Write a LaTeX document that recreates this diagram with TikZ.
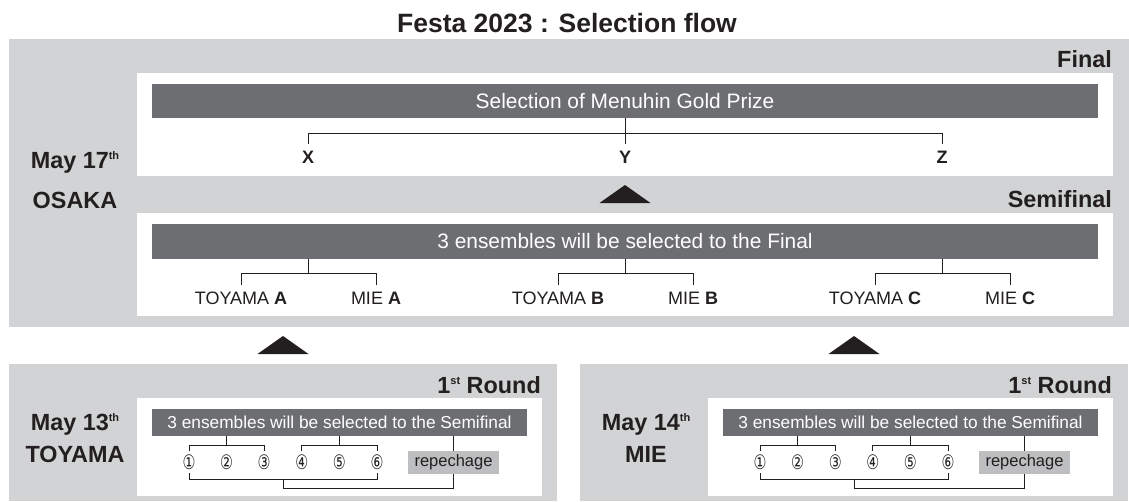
\documentclass[tikz,border=0pt]{standalone}
\usepackage{fontspec}
\setmainfont{Liberation Sans}
\newfontfamily\circfont{DejaVu Sans}

\definecolor{panelgray}{HTML}{D1D3D4}
\definecolor{bargray}{HTML}{6D6E71}
\definecolor{repgray}{HTML}{BCBEC0}
\definecolor{ink}{HTML}{231F20}

\newcommand\supx[1]{\raisebox{8.5pt}{\fontsize{11}{11}\selectfont #1}}

\begin{document}
\begin{tikzpicture}[x=1pt,y=1pt,
    bar/.style={fill=bargray,text=white,inner sep=0pt},
    stage/.style={font=\bfseries\fontsize{23.4}{28}\selectfont,anchor=base east,inner sep=0pt,text=ink},
    place/.style={font=\bfseries\fontsize{23.4}{28}\selectfont,anchor=base,inner sep=0pt,text=ink},
    pick/.style={font=\fontsize{18}{20}\selectfont,inner sep=0pt,outer sep=7pt,text=ink},
    num/.style={font=\circfont\fontsize{20}{20}\selectfont,inner sep=0pt,outer sep=4pt,text=ink},
    link/.style={draw=ink,line width=1pt}]
    \useasboundingbox (0,0) rectangle (1129,-501);
    \node[font=\bfseries\fontsize{26.5}{30}\selectfont,anchor=base,text=ink] (title) at (567,-32) {Festa 2023 : Selection flow};

    % Osaka: final and semifinal
    \fill[panelgray] (9,-39) rectangle (1129,-327);
    \fill[white] (137,-73) rectangle (1113,-176);
    \fill[white] (137,-213) rectangle (1113,-316);
    \node[stage] (final) at (1112,-67) {Final};
    \node[stage] (semi) at (1112,-207) {Semifinal};
    \node[place] (day0) at (75,-168.4) {May 17\supx{th}};
    \node[place] (town0) at (75,-208.4) {OSAKA};

    \node[bar,minimum width=946,minimum height=34,font=\fontsize{20.9}{24}\selectfont] (fbar) at (625,-101) {Selection of Menuhin Gold Prize};
    \node[pick] (X) at (308,-157) {\textbf{X}};
    \node[pick] (Y) at (625,-157) {\textbf{Y}};
    \node[pick] (Z) at (942,-157) {\textbf{Z}};
    \coordinate (fhub) at (625,-133);
    \draw[link] (fbar.south) -- (Y.north);
    \draw[link] (X.north) -- (X.north |- fhub) -- (Z.north |- fhub) -- (Z.north);

    \node[bar,minimum width=946,minimum height=35,font=\fontsize{20.9}{24}\selectfont] (sbar) at (625,-241.5) {3 ensembles will be selected to the Final};
    \foreach \gx/\gl [count=\g] in {308/A,625/B,942/C} {
      \node[pick] (toy\g) at (\gx-67,-298) {TOYAMA \textbf{\gl}};
      \node[pick] (mie\g) at (\gx+68,-298) {MIE \textbf{\gl}};
      \coordinate (shub\g) at (\gx,-273);
      \draw[link] (sbar.south -| shub\g) -- (shub\g);
      \draw[link] (toy\g.north) -- (toy\g.north |- shub\g) -- (mie\g.north |- shub\g) -- (mie\g.north);
    }

    % arrows up
    \foreach \tx/\ty in {625/185,283/336,854/336}
      \fill[ink] (\tx-25.5,-\ty-18) -- (\tx+25.5,-\ty-18) -- (\tx,-\ty) -- cycle;

    % first rounds
    \foreach \dx/\dd/\town [count=\p] in {0/13/TOYAMA,571/14/MIE} {
      \fill[panelgray] (9+\dx,-364) rectangle (557+\dx,-501);
      \fill[white] (137+\dx,-398) rectangle (542+\dx,-496);
      \node[stage] (round\p) at (541+\dx,-393) {1\supx{st} Round};
      \node[place] (day\p) at (75+\dx,-430) {May \dd\supx{th}};
      \node[place] (town\p) at (75+\dx,-462) {\town};
      \node[bar,minimum width=375,minimum height=27,font=\fontsize{17.3}{20}\selectfont] (rbar\p) at (339.5+\dx,-422.5) {3 ensembles will be selected to the Semifinal};
      \foreach \k in {1,...,6}
        \node[num] (c\p\k) at (189+37.6*\k-37.6+\dx,-462) {\scalebox{0.72}[1]{\char\numexpr"245F+\k\relax}};
      \node[fill=repgray,minimum width=91,minimum height=23,inner sep=0pt,font=\fontsize{16.5}{18}\selectfont,text=ink] (rep\p) at (453.5+\dx,-462.5) {repechage};
      \coordinate (hubA\p) at (226.6+\dx,-445);
      \coordinate (hubB\p) at (339.4+\dx,-445);
      \coordinate (low\p) at (283+\dx,-479);
      \coordinate (bot\p) at (283+\dx,-488);
      \draw[link] (rbar\p.south -| hubA\p) -- (hubA\p);
      \draw[link] (rbar\p.south -| hubB\p) -- (hubB\p);
      \draw[link] (c\p1.north) -- (c\p1.north |- hubA\p) -- (c\p3.north |- hubA\p) -- (c\p3.north);
      \draw[link] (c\p4.north) -- (c\p4.north |- hubB\p) -- (c\p6.north |- hubB\p) -- (c\p6.north);
      \draw[link] (c\p1.south) -- (c\p1.south |- low\p) -- (c\p6.south |- low\p) -- (c\p6.south);
      \draw[link] (low\p) -- (bot\p) -- (bot\p -| rep\p) -- (rep\p.south);
      \draw[link] (rbar\p.south -| rep\p) -- (rep\p.north);
    }
\end{tikzpicture}
\end{document}
